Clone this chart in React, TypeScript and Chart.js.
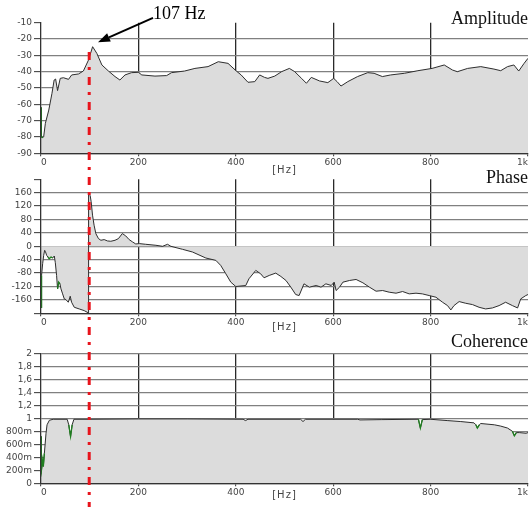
import React, { useEffect, useRef } from "react";
import { Chart, registerables } from "chart.js";

Chart.register(...registerables);

// ---------------- data ----------------
const X_TICK_VALUES = [0, 200, 400, 600, 800, 1000];
const X_TICK_LABELS = ["0", "200", "400", "600", "800", "1k"];

const AMP_TICK_VALUES = [-90, -80, -70, -60, -50, -40, -30, -20, -10];
const AMP_TICK_LABELS = ["-90", "-80", "-70", "-60", "-50", "-40", "-30", "-20", "-10"];

const PHASE_TICK_VALUES = [-200, -160, -120, -80, -40, 0, 40, 80, 120, 160, 200];
const PHASE_TICK_LABELS = ["", "-160", "-120", "-80", "-40", "0", "40", "80", "120", "160", ""];

const COH_TICK_VALUES = [0, 0.2, 0.4, 0.6, 0.8, 1, 1.2, 1.4, 1.6, 1.8, 2];
const COH_TICK_LABELS = ["0", "200m", "400m", "600m", "800m", "1", "1,2", "1,4", "1,6", "1,8", "2"];

const AMP_HZ = [0, 0.5, 4, 5.5, 9, 16, 22.5, 27, 30, 34, 39.5, 46, 56.5, 63, 77, 87, 97.5, 106, 114.7, 125, 138.5, 152, 162, 172.5, 186, 200, 207, 234, 258, 268, 295, 316, 343, 364, 384, 401, 411, 425, 439, 449, 459, 466, 480, 494, 510, 521, 535, 545, 555, 572, 589, 601, 608, 616, 630, 650, 671, 684, 701, 718, 746, 774, 803, 828, 845, 855, 876, 903, 930, 944, 958, 971, 981, 992, 1000];
const AMP_DB = [-62, -80, -80.4, -79.8, -71.6, -63.5, -53.3, -45.1, -44.5, -51.6, -44.1, -43.7, -44.7, -42, -41.4, -39.6, -32.9, -24.7, -28.8, -35.9, -39.6, -43, -45.1, -42, -40.6, -40.4, -42, -42.7, -42.4, -40.6, -39.6, -38, -36.9, -33.9, -34.9, -39.6, -42, -46.5, -46.1, -42, -43.5, -44.1, -42.7, -40, -38, -40, -44.1, -47.1, -43.5, -45.7, -46.7, -44.1, -46.1, -48.8, -46.1, -43, -40.6, -41, -43, -42, -41, -39.4, -38, -35.9, -39, -40, -38, -36.9, -38.4, -39.4, -36.9, -35.9, -39.6, -34.9, -31.8];
const AMP_GREEN_RANGES = [[0, 4]];

const PHASE_HZ = [0, 0.3, 2, 3.4, 5.5, 7.5, 8.9, 11.6, 14.3, 17, 20.5, 23.9, 27.3, 29.4, 32, 34, 36.2, 38.9, 41, 44.4, 47.8, 51.2, 56, 60, 62.8, 68.3, 78.5, 88.7, 97.6, 97.7, 101, 103, 105.8, 109, 112.6, 118, 123, 129.7, 136.5, 143.3, 152, 159, 167, 174, 181, 188, 194.5, 202, 215, 236, 249.6, 259.8, 266.7, 290.6, 311, 338.5, 359, 369, 379.5, 389.7, 400, 420.5, 427, 441, 451, 458, 468.6, 482, 492.5, 503, 513, 523, 530, 540, 551, 565, 575, 585, 596, 602, 606, 613, 620, 633.6, 647, 661, 674.5, 688, 701.5, 715, 729, 742.5, 756, 770, 783, 797, 811, 824.5, 834.8, 841.6, 848, 858.6, 872, 886, 899.5, 913, 927, 940.6, 954, 968, 978.6, 985, 995.5, 1000];
const PHASE_DEG = [-182, -87, -87, -52, -27, -12, -15, -27, -32, -37, -32, -35, -29, -49, -87, -127, -107, -112, -127, -142, -157, -159, -167, -149, -167, -182, -187, -192, -199, 158, 151, 133, 93, 63, 38, 23, 18, 20, 16, 15, 18, 23, 38, 31, 20, 13, 7, 8, 6, 3, 0, 6, 0, -9, -17, -35, -42, -57, -82, -107, -120, -117, -97, -72, -82, -94, -87, -80, -90, -102, -122, -144, -147, -112, -122, -117, -122, -112, -117, -107, -132, -122, -107, -102, -99, -109, -122, -134, -132, -137, -140, -135, -142, -140, -142, -147, -152, -167, -177, -190, -177, -165, -170, -174, -182, -187, -184, -177, -167, -177, -184, -157, -147, -144];
const PHASE_GREEN_RANGES = [[0, 2], [14.3, 24], [33, 40]];

const COH_HZ = [0, 0.2, 1, 3.4, 4.8, 6.9, 10.3, 12.4, 17.2, 25, 53.8, 57, 60.7, 64, 67.6, 100, 200, 300, 415, 420, 425, 533, 538, 543, 650, 655, 700, 775, 779, 783, 800, 834, 862, 889, 893, 896, 900, 903, 931, 944, 958, 968, 972, 976, 982, 996, 1000];
const COH_VAL = [0.2, 0.72, 0.18, 0.36, 0.26, 0.46, 0.77, 0.9, 0.97, 0.985, 0.985, 0.9, 0.72, 0.9, 0.985, 0.985, 0.99, 0.99, 0.985, 0.965, 0.985, 0.985, 0.95, 0.985, 0.985, 0.975, 0.98, 0.985, 0.85, 0.98, 0.985, 0.965, 0.95, 0.93, 0.9, 0.85, 0.9, 0.92, 0.9, 0.88, 0.85, 0.8, 0.73, 0.78, 0.78, 0.77, 0.78];
const COH_GREEN_RANGES = [[0, 7], [57, 64], [775, 783], [893, 900], [968, 976]];

const TITLES = ["Amplitude", "Phase", "Coherence"];
const ANNOT_LABEL = "107 Hz";
const ARROW_TIP = { hz: 117, db: -22 };
const ARROW_TAIL = { hz: 230, db: -7 };
const MARKER_HZ = 99;
const MARKER_TOP_DB = -28;

// ---------------- layout / style ----------------
const W = 529;
const H = 507;
const PLOT_LEFT = 41;
const PLOT_RIGHT = 528;
const X_AXIS_H = 14;
const FILL = "#dcdcdc";
const LINE = "#2e2e2e";
const GREEN = "#1f7f1f";
const TICK_FONT = { family: '"DejaVu Sans", sans-serif', size: 9 };
const TICK_COLOR = "#444";

const PANELS = [
  { top: 22.7, bottom: 153.3, titleDy: 1.5, hzDy: 17, hideTop: true, fill: "start" },
  { top: 179.3, bottom: 313.3, titleDy: 4, hzDy: 14.2, hideTop: true, fill: "origin" },
  { top: 353.3, bottom: 483.3, titleDy: -6, hzDy: 11.7, hideTop: false, fill: "origin" },
];

function inRanges(ranges: number[][], x: number) {
  return ranges.some((r) => x >= r[0] && x <= r[1]);
}

function buildConfig(
  idx: number,
  xs: number[],
  ys: number[],
  greens: number[][],
  tickValues: number[],
  tickLabels: string[],
  extraPlugins: any[]
): any {
  const p = PANELS[idx];
  const yMin = tickValues[0];
  const yMax = tickValues[tickValues.length - 1];
  const textPlugin = {
    id: "panelText" + idx,
    afterDraw(chart: any) {
      const { ctx, chartArea } = chart;
      ctx.save();
      ctx.font = '18px "Liberation Serif", serif';
      ctx.fillStyle = "#111";
      ctx.textAlign = "right";
      ctx.textBaseline = "alphabetic";
      ctx.fillText(TITLES[idx], chartArea.right, chartArea.top + p.titleDy);
      ctx.font = '10px "DejaVu Sans", sans-serif';
      ctx.fillStyle = TICK_COLOR;
      ctx.textAlign = "center";
      ctx.textBaseline = "middle";
      try { (ctx as any).letterSpacing = "1px"; } catch (e) {}
      ctx.fillText("[Hz]", (chartArea.left + chartArea.right) / 2, chartArea.bottom + p.hzDy);
      ctx.restore();
    },
  };
  return {
    type: "line",
    data: {
      datasets: [
        {
          data: xs.map((x, i) => ({ x, y: inRanges(greens, x) ? ys[i] : null })),
          borderColor: GREEN,
          borderWidth: 1.3,
          fill: false,
          pointRadius: 0,
          tension: 0,
          spanGaps: false,
          order: 0,
        },
        {
          data: xs.map((x, i) => ({ x, y: ys[i] })),
          borderColor: LINE,
          borderWidth: 1,
          backgroundColor: FILL,
          fill: p.fill,
          pointRadius: 0,
          tension: 0,
          order: 1,
        },
      ],
    },
    options: {
      responsive: false,
      animation: false,
      devicePixelRatio: 1,
      events: [],
      layout: {
        padding: { top: p.top, bottom: H - p.bottom - X_AXIS_H, left: 0, right: W - PLOT_RIGHT },
      },
      plugins: { legend: { display: false }, tooltip: { enabled: false }, title: { display: false } },
      scales: {
        x: {
          type: "linear",
          min: 0,
          max: 1000,
          afterFit: (s: any) => {
            s.height = X_AXIS_H;
            s.paddingLeft = 0;
            s.paddingRight = 0;
          },
          afterBuildTicks: (s: any) => {
            s.ticks = X_TICK_VALUES.map((v) => ({ value: v }));
          },
          ticks: {
            align: "inner",
            maxRotation: 0,
            autoSkip: false,
            font: TICK_FONT,
            color: TICK_COLOR,
            padding: 1,
            callback: (_v: any, i: number) => X_TICK_LABELS[i],
          },
          grid: {
            color: (c: any) =>
              c.tick && (c.tick.value === 0 || c.tick.value === 1000) ? "rgba(0,0,0,0)" : "#2a2a2a",
            lineWidth: 1.3,
            tickLength: 3,
            tickColor: "#333",
            tickWidth: 1,
          },
          border: { color: "#333", width: 1.3, z: 1 },
        },
        y: {
          type: "linear",
          min: yMin,
          max: yMax,
          afterFit: (s: any) => {
            s.width = PLOT_LEFT;
          },
          afterBuildTicks: (s: any) => {
            s.ticks = tickValues.map((v) => ({ value: v }));
          },
          ticks: {
            autoSkip: false,
            font: TICK_FONT,
            color: TICK_COLOR,
            padding: 2,
            callback: (_v: any, i: number) => tickLabels[i],
          },
          grid: {
            color: (c: any) =>
              c.tick && c.tick.value === yMax && p.hideTop ? "rgba(0,0,0,0)" : "#808080",
            lineWidth: 1.3,
            tickLength: 7,
            tickColor: "#333",
            tickWidth: 1,
          },
          border: { color: "#333", width: 1.3, z: 1 },
        },
      },
    },
    plugins: [textPlugin, ...extraPlugins],
  };
}

export default function App() {
  const c1 = useRef<HTMLCanvasElement>(null);
  const c2 = useRef<HTMLCanvasElement>(null);
  const c3 = useRef<HTMLCanvasElement>(null);

  useEffect(() => {
    const charts: any[] = [];

    const arrowPlugin = {
      id: "arrowNote",
      afterDraw(chart: any) {
        const { ctx, scales } = chart;
        const tx = scales.x.getPixelForValue(ARROW_TIP.hz);
        const ty = scales.y.getPixelForValue(ARROW_TIP.db);
        const sx = scales.x.getPixelForValue(ARROW_TAIL.hz);
        const sy = scales.y.getPixelForValue(ARROW_TAIL.db);
        ctx.save();
        ctx.strokeStyle = "#000";
        ctx.fillStyle = "#000";
        ctx.lineWidth = 2;
        const ang = Math.atan2(ty - sy, tx - sx);
        const headLen = 12;
        const hw = 4.5;
        const bx = tx - headLen * Math.cos(ang);
        const by = ty - headLen * Math.sin(ang);
        ctx.beginPath();
        ctx.moveTo(sx, sy);
        ctx.lineTo(bx, by);
        ctx.stroke();
        ctx.beginPath();
        ctx.moveTo(tx, ty);
        ctx.lineTo(bx + hw * Math.sin(ang), by - hw * Math.cos(ang));
        ctx.lineTo(bx - hw * Math.sin(ang), by + hw * Math.cos(ang));
        ctx.closePath();
        ctx.fill();
        ctx.font = '18px "Liberation Serif", serif';
        ctx.textAlign = "left";
        ctx.textBaseline = "alphabetic";
        ctx.fillText(ANNOT_LABEL, sx, sy + 1.5);
        ctx.restore();
      },
    };

    const markerPlugin = {
      id: "marker",
      afterDraw(chart: any) {
        const top = charts[0];
        if (!top) return;
        const { ctx } = chart;
        const x = chart.scales.x.getPixelForValue(MARKER_HZ);
        const y0 = top.scales.y.getPixelForValue(MARKER_TOP_DB);
        ctx.save();
        ctx.strokeStyle = "#e8141c";
        ctx.lineWidth = 3;
        ctx.setLineDash([8, 7, 3, 7]);
        ctx.beginPath();
        ctx.moveTo(x, y0);
        ctx.lineTo(x, H);
        ctx.stroke();
        ctx.restore();
      },
    };

    charts.push(
      new Chart(
        c1.current as HTMLCanvasElement,
        buildConfig(0, AMP_HZ, AMP_DB, AMP_GREEN_RANGES, AMP_TICK_VALUES, AMP_TICK_LABELS, [arrowPlugin])
      )
    );
    charts.push(
      new Chart(
        c2.current as HTMLCanvasElement,
        buildConfig(1, PHASE_HZ, PHASE_DEG, PHASE_GREEN_RANGES, PHASE_TICK_VALUES, PHASE_TICK_LABELS, [])
      )
    );
    charts.push(
      new Chart(
        c3.current as HTMLCanvasElement,
        buildConfig(2, COH_HZ, COH_VAL, COH_GREEN_RANGES, COH_TICK_VALUES, COH_TICK_LABELS, [markerPlugin])
      )
    );
    charts[2].update();

    return () => {
      charts.forEach((c) => c.destroy());
    };
  }, []);

  const cs: React.CSSProperties = { position: "absolute", left: 0, top: 0, width: W, height: H };
  return (
    <div style={{ position: "absolute", left: 0, top: 0, width: W, height: H, overflow: "hidden", background: "#fff" }}>
      <canvas ref={c1} width={W} height={H} style={cs} />
      <canvas ref={c2} width={W} height={H} style={cs} />
      <canvas ref={c3} width={W} height={H} style={cs} />
    </div>
  );
}
